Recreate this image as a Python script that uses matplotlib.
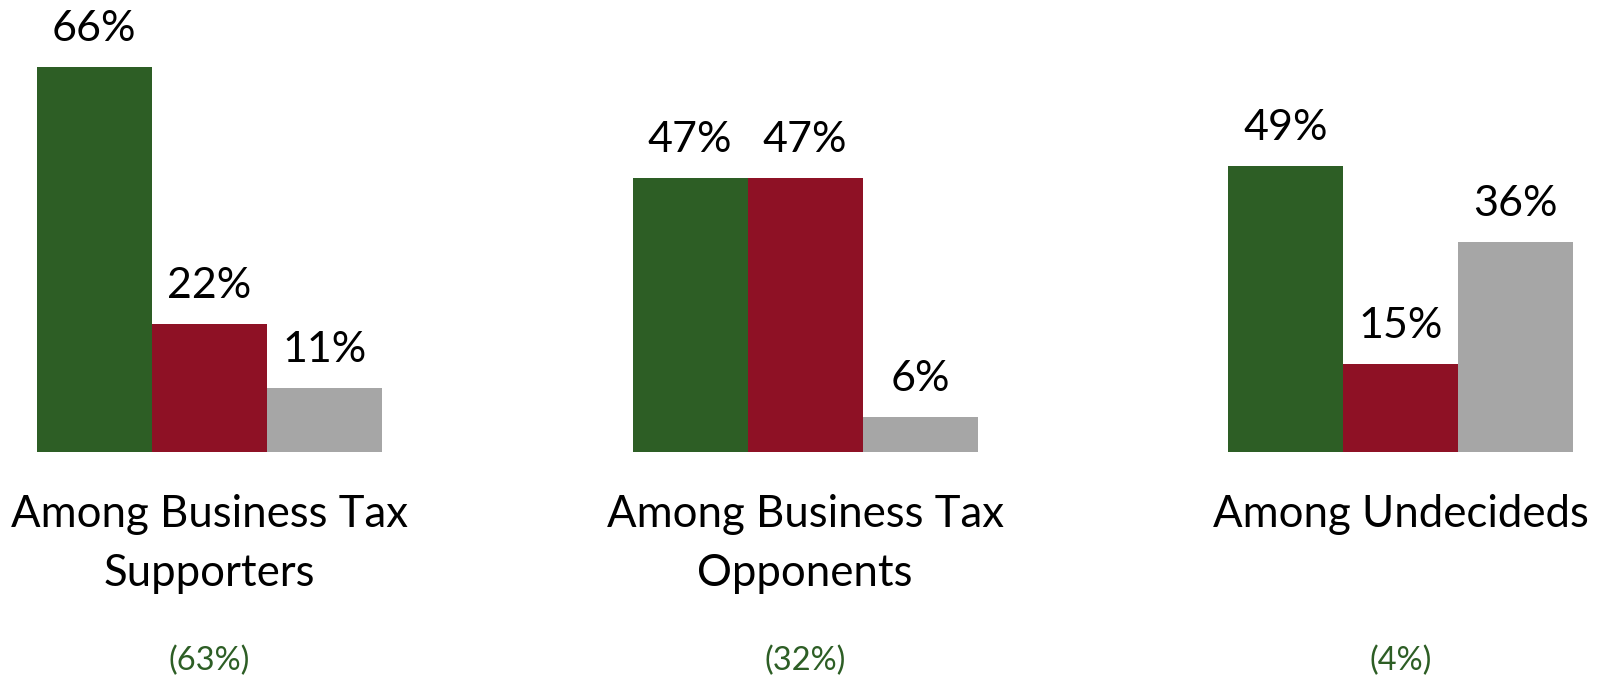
import numpy as np
import matplotlib
matplotlib.use("Agg")
import matplotlib.pyplot as plt
import matplotlib.transforms as mtransforms

plt.rcParams['font.family'] = ['Lato', 'DejaVu Sans']

# Survey breakdown per group
groups = ["Among Business Tax\nSupporters", "Among Business Tax\nOpponents", "Among Undecideds"]
group_share = ["(63%)", "(32%)", "(4%)"]
green_vals = [66, 47, 49]
red_vals = [22, 47, 15]
gray_vals = [11, 6, 36]

colors = ["#2D5E25", "#8E1125", "#A6A6A6"]

fig = plt.figure(figsize=(16.10, 6.76), dpi=100)
ax = fig.add_axes([0, 224 / 676, 1, 452 / 676])

x = np.arange(len(groups))
w = 0.193
series = [green_vals, red_vals, gray_vals]
for i, (vals, c) in enumerate(zip(series, colors)):
    pos = x + (i - 1) * w
    ax.bar(pos, vals, width=w, color=c, edgecolor='none')
    for p, v in zip(pos, vals):
        ax.annotate(f"{v}%", (p, v), xytext=(0, 19), textcoords='offset pixels',
                    ha='center', va='bottom', fontsize=31, color='black')

ax.set_xlim(-0.351, 2.351)
ax.set_ylim(0, 77.4)
ax.axis('off')

trans = mtransforms.blended_transform_factory(ax.transData, fig.transFigure)
for xi, name, share in zip(x, groups, group_share):
    ax.text(xi, 1 - 494 / 676, name, transform=trans, ha='center', va='top',
            fontsize=31.5, linespacing=1.55, clip_on=False)
    ax.text(xi, 1 - 661 / 676, share, transform=trans, ha='center', va='center',
            fontsize=23.5, color=colors[0], clip_on=False)

fig.savefig("out.png", dpi=100)
